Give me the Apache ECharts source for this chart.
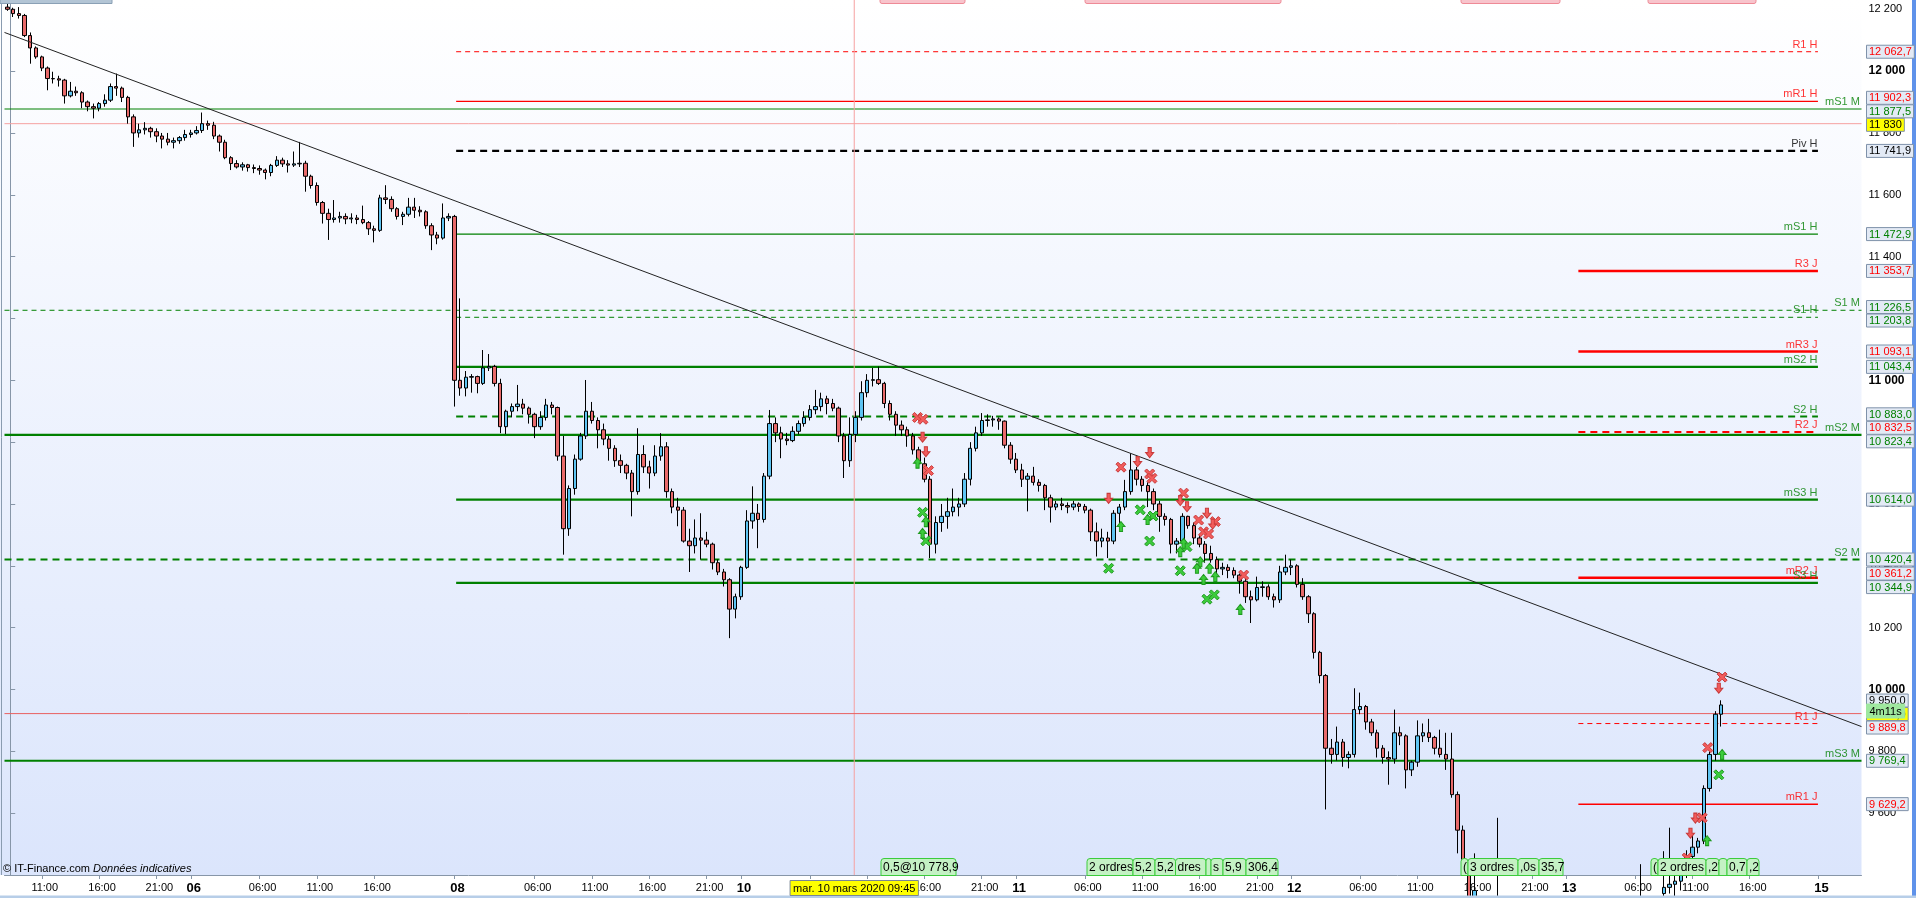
<!DOCTYPE html>
<html><head><meta charset="utf-8">
<script src="https://cdn.jsdelivr.net/npm/echarts@6/dist/echarts.min.js"></script>
<style>html,body{margin:0;padding:0;background:#fff;overflow:hidden}#c{width:1916px;height:898px}</style>
</head><body><div id="c"></div>
<script>
const FONT = 'Liberation Sans, Arial, sans-serif';

// ---- categories (30-minute bars, trading sessions) ----
const sessions = [["05",8,23],["06",0,22],["08",23,23],["09",0,23],["10",0,23],["11",0,23],["12",0,23],["13",0,21],["15",23,23],["16",0,2]];
const categories = [];
sessions.forEach(([d,a,b]) => { for (let h=a; h<=b; h++){ const hh=String(h).padStart(2,'0'); categories.push(d+' '+hh+':00'); categories.push(d+' '+hh+':30'); } });

// ---- x tick labels ----
const xTickLabels = {
 "05 11:00":"11:00","05 16:00":"16:00","05 21:00":"21:00","06 00:00":"06","06 06:00":"06:00","06 11:00":"11:00","06 16:00":"16:00",
 "08 23:00":"08","09 06:00":"06:00","09 11:00":"11:00","09 16:00":"16:00","09 21:00":"21:00",
 "10 00:00":"10","10 06:00":"06:00","10 11:00":"11:00","10 16:00":"16:00","10 21:00":"21:00",
 "11 00:00":"11","11 06:00":"06:00","11 11:00":"11:00","11 16:00":"16:00","11 21:00":"21:00",
 "12 00:00":"12","12 06:00":"06:00","12 11:00":"11:00","12 16:00":"16:00","12 21:00":"21:00",
 "13 00:00":"13","13 06:00":"06:00","13 11:00":"11:00","13 16:00":"16:00","15 23:00":"15"
};

// ---- 30-minute candles [open, close, low, high] ----
const ohlc = [
[12207,12200,12195,12218],[12200,12186,12175,12205],[12186,12180,12170,12207],[12180,12115,12110,12185],
[12115,12075,12024,12125],[12075,12046,12040,12080],[12046,12010,12000,12050],[12010,11976,11938,12015],
[11976,11975,11960,11998],[11975,11971,11950,11985],[11971,11920,11895,11975],[11920,11935,11915,11965],
[11935,11930,11920,11950],[11930,11900,11880,11935],[11900,11885,11870,11905],[11885,11880,11847,11895],
[11880,11895,11870,11900],[11895,11906,11885,11925],[11906,11950,11900,11960],[11950,11945,11920,11992],
[11945,11915,11900,11950],[11915,11852,11830,11920],[11852,11800,11755,11860],[11800,11810,11785,11830],
[11810,11815,11795,11835],[11815,11804,11785,11820],[11804,11790,11770,11815],[11790,11780,11750,11800],
[11780,11770,11760,11800],[11770,11775,11750,11785],[11775,11785,11765,11790],[11785,11795,11775,11810],
[11795,11800,11785,11810],[11800,11808,11795,11822],[11808,11830,11800,11866],[11830,11825,11810,11840],
[11825,11790,11780,11836],[11790,11770,11740,11795],[11770,11720,11715,11778],[11720,11701,11680,11725],
[11701,11690,11685,11712],[11690,11697,11678,11705],[11697,11688,11675,11700],[11688,11685,11670,11698],
[11685,11680,11665,11695],[11680,11672,11650,11685],[11672,11695,11660,11700],[11695,11712,11690,11725],
[11712,11700,11690,11720],[11700,11696,11672,11712],[11696,11700,11690,11740],[11700,11702,11690,11771],
[11702,11660,11610,11710],[11660,11630,11620,11665],[11630,11575,11565,11640],[11575,11540,11507,11580],
[11540,11520,11454,11555],[11520,11525,11510,11583],[11525,11530,11510,11545],[11530,11522,11505,11540],
[11522,11525,11508,11540],[11525,11520,11505,11535],[11520,11510,11505,11565],[11510,11490,11470,11515],
[11490,11485,11446,11500],[11485,11590,11480,11600],[11590,11585,11570,11631],[11585,11555,11545,11595],
[11555,11530,11520,11560],[11530,11537,11502,11545],[11537,11560,11530,11590],[11560,11550,11525,11590],
[11550,11545,11530,11563],[11545,11500,11490,11550],[11500,11470,11421,11508],[11470,11460,11440,11480],
[11460,11525,11455,11572],[11525,11530,11515,11540],[11530,11000,10915,11535],[11000,10975,10950,11265],
[10975,11010,10948,11030],[11010,11012,10960,11020],[11012,10990,10958,11015],[10990,11040,10985,11098],
[11040,11045,11030,11085],[11045,10990,10980,11050],[10990,10850,10829,11005],[10850,10900,10826,10905],
[10900,10915,10880,10925],[10915,10923,10900,10985],[10923,10910,10890,10940],[10910,10890,10860,10915],
[10890,10850,10813,10895],[10850,10880,10840,10900],[10880,10920,10870,10940],[10920,10912,10890,10930],
[10912,10755,10740,10915],[10755,10520,10436,10820],[10520,10650,10497,10660],[10650,10745,10630,10760],
[10745,10820,10740,10830],[10820,10900,10810,11001],[10900,10870,10860,10930],[10870,10840,10780,10880],
[10840,10810,10790,10860],[10810,10780,10740,10820],[10780,10740,10720,10790],[10740,10725,10700,10760],
[10725,10700,10680,10730],[10700,10640,10560,10710],[10640,10760,10630,10845],[10760,10720,10700,10790],
[10720,10700,10650,10740],[10700,10755,10690,10790],[10755,10785,10740,10829],[10785,10640,10620,10800],
[10640,10590,10570,10650],[10590,10580,10528,10620],[10580,10480,10475,10590],[10480,10465,10380,10520],
[10465,10490,10440,10550],[10490,10483,10420,10570],[10483,10470,10460,10510],[10470,10410,10388,10475],
[10410,10380,10370,10420],[10380,10355,10333,10390],[10355,10260,10166,10360],[10260,10300,10230,10310],
[10300,10395,10290,10400],[10395,10545,10390,10580],[10545,10570,10520,10657],[10570,10550,10457,10600],
[10550,10690,10540,10700],[10690,10860,10680,10904],[10860,10830,10800,10880],[10830,10810,10748,10850],
[10810,10805,10790,10830],[10805,10835,10800,10851],[10835,10860,10825,10870],[10860,10880,10850,10900],
[10880,10905,10870,10920],[10905,10915,10890,10969],[10915,10940,10900,10960],[10940,10925,10890,10950],
[10925,10910,10900,10940],[10910,10820,10800,10915],[10820,10740,10684,10830],[10740,10825,10720,10880],
[10825,10880,10800,10900],[10880,10960,10870,10997],[10960,11000,10945,11020],[11000,11002,10980,11040],
[11002,10990,10985,11044],[10990,10925,10910,10995],[10925,10890,10870,10935],[10890,10855,10820,10900],
[10855,10840,10820,10870],[10840,10820,10785,10850],[10820,10775,10760,10830],[10775,10730,10720,10785],
[10730,10680,10670,10750],[10680,10470,10425,10690],[10470,10540,10440,10560],[10540,10560,10510,10600],
[10560,10575,10520,10620],[10575,10590,10560,10650],[10590,10600,10560,10620],[10600,10680,10590,10700],
[10680,10780,10660,10800],[10780,10830,10770,10850],[10830,10870,10820,10894],[10870,10872,10850,10890],
[10872,10875,10850,10885],[10875,10868,10840,10880],[10868,10790,10780,10870],[10790,10745,10730,10800],
[10745,10710,10700,10765],[10710,10680,10655,10730],[10680,10690,10576,10700],[10690,10670,10660,10720],
[10670,10660,10640,10680],[10660,10620,10580,10665],[10620,10590,10540,10630],[10590,10600,10580,10610],
[10600,10595,10580,10620],[10595,10590,10570,10605],[10590,10600,10580,10610],[10600,10592,10575,10605],
[10592,10580,10570,10600],[10580,10510,10480,10585],[10510,10480,10430,10540],[10480,10490,10460,10520],
[10490,10480,10425,10510],[10480,10570,10470,10580],[10570,10590,10530,10600],[10590,10640,10580,10678],
[10640,10710,10630,10764],[10710,10680,10660,10720],[10680,10660,10640,10690],[10660,10640,10590,10670],
[10640,10600,10580,10650],[10600,10560,10510,10610],[10560,10550,10530,10570],[10550,10470,10440,10555],
[10470,10480,10440,10490],[10480,10560,10470,10570],[10560,10530,10520,10562],[10530,10490,10470,10540],
[10490,10470,10460,10500],[10470,10440,10410,10480],[10440,10420,10410,10465],[10420,10390,10370,10430],
[10390,10395,10370,10410],[10395,10385,10360,10405],[10385,10370,10360,10395],[10370,10350,10310,10375],
[10350,10300,10280,10365],[10300,10290,10215,10320],[10290,10330,10285,10365],[10330,10332,10300,10350],
[10332,10300,10290,10340],[10300,10290,10265,10310],[10290,10380,10280,10400],[10380,10395,10370,10436],
[10395,10400,10370,10420],[10400,10340,10330,10405],[10340,10300,10290,10360],[10300,10245,10215,10305],
[10245,10120,10100,10250],[10120,10045,10020,10125],[10045,9810,9612,10050],[9810,9790,9760,9840],
[9790,9830,9770,9880],[9830,9780,9750,9840],[9780,9790,9745,9800],[9790,9935,9780,10004],
[9935,9945,9920,9990],[9945,9895,9870,9950],[9895,9860,9850,9905],[9860,9810,9780,9870],
[9810,9780,9760,9820],[9780,9775,9692,9800],[9775,9860,9760,9935],[9860,9850,9820,9880],
[9850,9740,9680,9855],[9740,9765,9720,9770],[9765,9850,9750,9900],[9850,9860,9830,9890],
[9860,9845,9830,9905],[9845,9810,9790,9850],[9810,9790,9780,9870],[9790,9775,9740,9860],
[9775,9660,9650,9860],[9660,9545,9470,9670],[9545,9420,9400,9560],[9420,9330,9280,9440],
[9330,9350,9300,9470],[9350,9300,9250,9380],[9300,9290,9260,9380],[9290,9310,9240,9330],
[9310,9330,9290,9585],[9330,9340,9300,9360],[9340,9320,9300,9385],[9320,9300,9260,9340],
[9300,9290,9260,9330],[9290,9280,9240,9310],[9280,9260,9240,9300],[9260,9250,9200,9280],
[9250,9240,9210,9270],[9240,9230,9190,9260],[9230,9220,9190,9260],[9220,9210,9170,9240],
[9210,9190,9150,9240],[9190,9180,9120,9210],[9180,9190,9150,9220],[9190,9200,9170,9230],
[9200,9185,9170,9230],[9185,9190,9160,9210],[9190,9210,9170,9230],[9210,9220,9190,9250],
[9220,9230,9200,9250],[9230,9240,9210,9270],[9240,9260,9230,9280],[9260,9280,9250,9310],
[9280,9300,9260,9330],[9300,9320,9290,9435],[9320,9330,9290,9380],[9330,9332,9300,9360],
[9332,9340,9300,9370],[9340,9360,9320,9477],[9360,9370,9340,9553],[9370,9380,9330,9400],
[9380,9400,9350,9420],[9400,9460,9390,9480],[9460,9490,9440,9530],[9490,9510,9470,9520],
[9510,9680,9500,9690],[9680,9790,9670,9800],[9790,9920,9770,9930],[9920,9950,9880,9965]
];

// ---- pivot levels ----
const levelNames  = ["R1 H","mR1 H","mS1 M","Piv H","mS1 H","R3 J","S1 M","S1 H","mR3 J","mS2 H","S2 H","R2 J","mS2 M","mS3 H","S2 M","mR2 J","S3 H","R1 J","mS3 M","mR1 J"];
const levelValues = [12062.7,11902.3,11877.5,11741.9,11472.9,11353.7,11226.5,11203.8,11093.1,11043.4,10883.0,10832.5,10823.4,10614.0,10420.4,10361.2,10344.9,9889.8,9769.4,9629.2];

// ---- trend line, crosshair, last price (x in hour-bar units) ----
const trendLine = [[-0.5,12125],[161.5,9880]];
const crossK = 73.63, crossV = 11830, crossLabel = "mar. 10 mars 2020 09:45";
const lastLine = 9922, lastClose = 9950.0, countdown = "4m11s";

// ---- trade markers [hour-bar position, price] ----
const redX = [[79.15,10880],[79.62,10874],[80.11,10708],[96.9,10719],[99.4,10697],[99.6,10683],[102.36,10635],[103.67,10548],[104.1,10510],[104.54,10503],[105.13,10543],[107.6,10370],[149.34,10040],[148.09,9812],[147.6,9585],[146.3,9455]];
const redDown = [[79.59,10816],[79.88,10769],[95.82,10618],[98.35,10737],[99.4,10766],[102.07,10611],[102.66,10591],[104.4,10570],[104.9,10535],[149.05,10004],[147.01,9584],[146.58,9535]];
const greenUp = [[79.15,10732],[79.88,10543],[79.59,10505],[96.9,10527],[99.22,10550],[102.36,10473],[102.07,10446],[103.82,10413],[103.53,10392],[104.63,10392],[105.13,10365],[104.1,10356],[107.31,10259],[149.34,9790],[148.03,9511]];
const greenX = [[79.59,10573],[79.88,10481],[95.82,10392],[98.58,10581],[99.7,10561],[99.4,10480],[102.66,10462],[102.07,10384],[104.4,10292],[105.04,10306],[149.05,9724]];

// ---- order tag texts ----
const orderTagTexts = ["0,5@10 778,9","2 ordres","5,2","5,2","dres","","s","5,9","306,4","(","3 ordres",",0s","35,7","(","2 ordres",",2'","","0,7",",2"];

// ================= styles / layout =================
const levelStyle = {
 "R1 H":{w:1,d:[5,4]},"mR1 H":{w:1.3},"mS1 M":{w:1.2},"Piv H":{w:2.2,d:[7,5]},"mS1 H":{w:1.3},"R3 J":{w:2.6},
 "S1 M":{w:1,d:[5,4]},"S1 H":{w:1,d:[5,4]},"mR3 J":{w:2.6},"mS2 H":{w:2.2},"S2 H":{w:2.2,d:[7,5]},"R2 J":{w:2,d:[7,5]},
 "mS2 M":{w:2.2},"mS3 H":{w:2.2},"S2 M":{w:2,d:[7,5]},"mR2 J":{w:2.6},"S3 H":{w:2.2},"R1 J":{w:1,d:[5,4]},"mS3 M":{w:2},"mR1 J":{w:1.5}
};
const extentByPeriod = {H:[38.9,157.7], J:[136.8,157.7], M:[-0.5,161.5]};
const labelEndByPeriod = {H:157.7, J:157.7, M:161.4};
const orderTagLayout = [[881,956],[1087,1133],[1133,1155],[1155,1175.5],[1175.5,1206],[1206,1211],[1211,1223],[1223,1246],[1246,1278],
 [1461,1468],[1468,1518],[1518,1539],[1539,1563],[1651,1658],[1658,1706],[1706,1719],[1719,1727],[1727,1747],[1747,1759]];
const pinkTopLayout = [[880,965],[1085,1281],[1461,1560],[1648,1756]];

function colorOf(n){ return n.indexOf('R')>=0 ? '#ff0000' : (n.indexOf('S')>=0 ? '#008000' : '#000000'); }
function grp(n){ return String(n).replace(/\B(?=(\d{3})+(?!\d))/g,' '); }
function fmt1(v){ const s=v.toFixed(1).split('.'); return grp(s[0])+','+s[1]; }
function fmt0(v){ return grp(Math.round(v)); }

const X_SYM = 'path://M2,0 L5,3 L8,0 L10,2 L7,5 L10,8 L8,10 L5,7 L2,10 L0,8 L3,5 L0,2 Z';
const DOWN_SYM = 'path://M3,0 L7,0 L7,5 L10,5 L5,10 L0,5 L3,5 Z';
const UP_SYM = 'path://M5,0 L10,5 L7,5 L7,10 L3,10 L3,5 L0,5 Z';

const tickFn = (i, v) => Object.prototype.hasOwnProperty.call(xTickLabels, v);

const series = [];
levelNames.forEach((n, i) => {
  const p = n.slice(-1), st = levelStyle[n], ext = extentByPeriod[p];
  series.push({type:'line', xAxisIndex:1, yAxisIndex:0, silent:true, symbol:'none', z:2,
    data:[[ext[0], levelValues[i]],[ext[1], levelValues[i]]],
    lineStyle:{color:colorOf(n), width:st.w, type: st.d ? st.d : 'solid'}});
});
series.push({type:'scatter', xAxisIndex:1, yAxisIndex:0, silent:true, symbol:'circle', symbolSize:1, z:4,
  itemStyle:{color:'rgba(0,0,0,0)'},
  label:{show:true, position:'left', distance:0, offset:[0,-7], fontSize:11, fontFamily:FONT},
  data: levelNames.map((n,i)=>({value:[labelEndByPeriod[n.slice(-1)], levelValues[i]], label:{formatter:n, color:colorOf(n)}}))});
series.push({type:'line', xAxisIndex:1, yAxisIndex:0, silent:true, symbol:'none', z:3, data:[[-0.5,crossV],[161.5,crossV]], lineStyle:{color:'#f6a0a0', width:1}});
series.push({type:'line', xAxisIndex:1, yAxisIndex:0, silent:true, symbol:'none', z:3, data:[[crossK,9400],[crossK,12230]], lineStyle:{color:'#f6a0a0', width:1}});
series.push({type:'line', xAxisIndex:1, yAxisIndex:0, silent:true, symbol:'none', z:3, data:[[-0.5,lastLine],[161.5,lastLine]], lineStyle:{color:'#e86060', width:1}});
series.push({type:'candlestick', xAxisIndex:0, yAxisIndex:0, data:ohlc, barWidth:'68%', z:5,
  itemStyle:{color:'#5ec4f2', color0:'#e86a6a', borderColor:'#000', borderColor0:'#000', borderWidth:1}});
const trendIdx = series.length;
series.push({type:'line', xAxisIndex:1, yAxisIndex:0, silent:true, symbol:'none', z:6, data:trendLine, lineStyle:{color:'#222', width:1}});
const mk = (data, sym, size, fill, stroke) => ({type:'scatter', xAxisIndex:1, yAxisIndex:0, silent:true, z:7, data, symbol:sym, symbolSize:size,
  itemStyle:{color:fill, borderColor:stroke, borderWidth:1, opacity:1}});
series.push(mk(greenX, X_SYM, [10,10], '#3ccc3c', '#1f9a1f'));
series.push(mk(greenUp, UP_SYM, [8,10], '#3ccc3c', '#1f9a1f'));
series.push(mk(redX, X_SYM, [10,10], '#f25c5c', '#c83a3a'));
series.push(mk(redDown, DOWN_SYM, [8,10], '#f25c5c', '#c83a3a'));

const option = {
  animation:false,
  backgroundColor:'#ffffff',
  grid:{left:4.5, right:54.5, top:0, bottom:23, containLabel:false},
  xAxis:[
    {type:'category', data:categories, boundaryGap:true,
     axisLine:{show:true, lineStyle:{color:'#8796a8', width:1}},
     axisTick:{show:true, interval:tickFn, alignWithLabel:true, length:4, lineStyle:{color:'#8796a8'}},
     axisLabel:{interval:tickFn, margin:7, color:'#000', fontSize:11, fontFamily:FONT,
       formatter:(v)=>{const t=xTickLabels[v]||''; return t.length===2 ? '{d|'+t+'}' : '{h|'+t+'}';},
       rich:{d:{fontWeight:'bold', fontSize:13, fontFamily:FONT, color:'#000', padding:[0,0,0,6]},
             h:{fontSize:11, fontFamily:FONT, color:'#000', padding:[0,0,0,6]}}},
     splitLine:{show:false}},
    {type:'value', min:-0.5, max:161.5, show:false}
  ],
  yAxis:{type:'value', position:'right', min:9400, max:12230, interval:200, scale:false,
    axisLine:{show:true, lineStyle:{color:'#8796a8', width:1}},
    axisTick:{show:true, length:5, lineStyle:{color:'#8796a8'}},
    axisLabel:{margin:7, color:'#000', fontSize:11, fontFamily:FONT, showMaxLabel:false, showMinLabel:false,
      formatter:(v)=> v%1000===0 ? '{b|'+fmt0(v)+'}' : fmt0(v),
      rich:{b:{fontWeight:'bold', fontSize:12, fontFamily:FONT, color:'#000'}}},
    splitLine:{show:false}},
  series
};

const chart = echarts.init(document.getElementById('c'));
chart.setOption(option);

// ---------- overlays ----------
const ctx = document.createElement('canvas').getContext('2d');
function tw(t, size, weight){ ctx.font = (weight||'normal')+' '+size+'px '+FONT; return ctx.measureText(t).width; }
const g = [];
g.push({type:'rect', z:-100, silent:true, shape:{x:0,y:0,width:1861.5,height:875},
  style:{fill:new echarts.graphic.LinearGradient(0,0,0,1,[{offset:0,color:'#ffffff'},{offset:1,color:'#dbe5fc'}])}});
g.push({type:'line', z:10, silent:true, shape:{x1:1.5,y1:0,x2:1.5,y2:875}, style:{stroke:'#8a9cb0', lineWidth:1}});
g.push({type:'rect', z:100, silent:true, shape:{x:1912,y:0,width:4,height:898}, style:{fill:'#5f92ea'}});
g.push({type:'rect', z:100, silent:true, shape:{x:0,y:895.5,width:1916,height:2.5}, style:{fill:'#b7cee8'}});
g.push({type:'rect', z:100, silent:true, shape:{x:0,y:-8,width:112,height:11.5}, style:{fill:'#b3c5d5', stroke:'#8aa0b5', lineWidth:1}});
pinkTopLayout.forEach(([a,b])=> g.push({type:'rect', z:100, silent:true, shape:{x:a,y:-8,width:b-a,height:11.5,r:2}, style:{fill:'#f8c4cc', stroke:'#ee8a96', lineWidth:1}}));
orderTagTexts.forEach((t,i)=>{
  const [a,b] = orderTagLayout[i];
  g.push({type:'rect', z:100+i, silent:true, shape:{x:a,y:858.5,width:b-a,height:17,r:[3,3,0,0]}, style:{fill:'#c4f1c4', stroke:'#3ccc3c', lineWidth:1}});
  g.push({type:'text', z:100+i, silent:true, x:a+2, y:867.5, style:{text:t, fill:'#000', font:'12px '+FONT, verticalAlign:'middle'}});
});
g.push({type:'text', z:100, silent:true, x:3, y:869, style:{text:'{a|© IT-Finance.com }{b|Données indicatives}', verticalAlign:'middle',
  rich:{a:{font:'11px '+FONT, fill:'#000'}, b:{font:'italic 11px '+FONT, fill:'#000'}}}});

// crosshair label on the time axis
const cx = chart.convertToPixel({seriesIndex:trendIdx}, [crossK, crossV]);
const cw = tw(crossLabel, 11) + 6;
g.push({type:'rect', z:200, silent:true, shape:{x:cx[0]-cw/2, y:880.5, width:cw, height:15}, style:{fill:'#ffff00', stroke:'#7a8696', lineWidth:1}});
g.push({type:'text', z:201, silent:true, x:cx[0], y:888.5, style:{text:crossLabel, fill:'#000', font:'11px '+FONT, align:'center', verticalAlign:'middle'}});

// price tags on the right axis
const tags = levelNames.map((n,i)=>({v:levelValues[i], text:fmt1(levelValues[i]), color:colorOf(n), bg:'#e3eaf5', z:150}));
tags.push({v:lastClose, text:fmt1(lastClose), color:'#000', bg:'#e3eaf5', z:150});
tags.push({v:lastLine, text:fmt1(lastLine), color:'#000', bg:'#ffff00', z:160, extra:countdown});
tags.push({v:crossV, text:fmt0(crossV), color:'#000', bg:'#ffff00', z:170});
tags.forEach(t => t.y = chart.convertToPixel({yAxisIndex:0}, t.v));
const sorted = tags.slice().sort((a,b)=>a.y-b.y);
const GAP = 13.5;
for (let it=0; it<60; it++) for (let i=1;i<sorted.length;i++){ const d=sorted[i].y-sorted[i-1].y; if (d<GAP){ const p=(GAP-d)/2; sorted[i].y+=p; sorted[i-1].y-=p; } }
const axX = 1866.5;
tags.forEach(t => {
  const w = tw(t.text, 11) + 5;
  g.push({type:'rect', z:t.z, silent:true, shape:{x:axX, y:t.y-6.5, width:w, height:13}, style:{fill:t.bg, stroke:'#7f92aa', lineWidth:1}});
  g.push({type:'text', z:t.z, silent:true, x:axX+2.5, y:t.y+0.5, style:{text:t.text, fill:t.color, font:'11px '+FONT, verticalAlign:'middle'}});
  if (t.extra){
    const w2 = tw(t.extra, 11) + 6;
    g.push({type:'rect', z:t.z+1, silent:true, shape:{x:axX, y:t.y-10, width:w2, height:14}, style:{fill:'#9fe89f', stroke:'#9fe89f', lineWidth:1}});
    g.push({type:'text', z:t.z+1, silent:true, x:axX+3, y:t.y-2.5, style:{text:t.extra, fill:'#000', font:'11px '+FONT, verticalAlign:'middle'}});
  }
});
chart.setOption({graphic:{elements:g}});
</script></body></html>
